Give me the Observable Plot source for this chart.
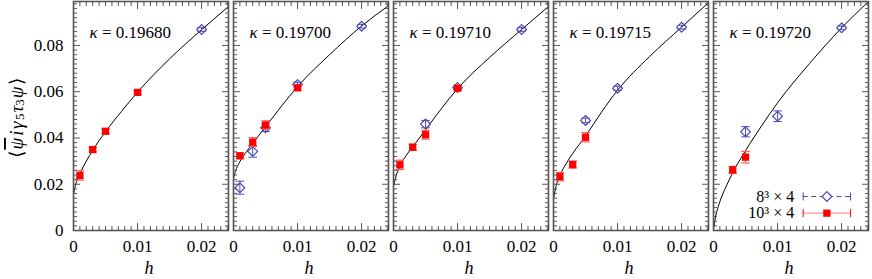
<!DOCTYPE html>
<html><head><meta charset="utf-8">
<script src="https://cdn.jsdelivr.net/npm/d3@7"></script>
<script src="https://cdn.jsdelivr.net/npm/@observablehq/plot@0.6"></script>
<style>
body{margin:0;background:#fff}
svg{display:block}
#chart svg, #chart svg text, #chart svg tspan { font-family: "Liberation Serif", "Times New Roman", serif !important; }
</style>
</head><body><div id="chart"></div>
<script>
// facet categories
const kappas = ["0.19680", "0.19700", "0.19710", "0.19715", "0.19720"];

// 8^3 x 4 lattice (open diamonds)
const l8Kappa = ["0.19680",
  "0.19700", "0.19700", "0.19700", "0.19700", "0.19700",
  "0.19710", "0.19710", "0.19710",
  "0.19715", "0.19715", "0.19715",
  "0.19720", "0.19720", "0.19720"];
const l8H   = [0.02, 0.001, 0.003, 0.005, 0.01, 0.02, 0.005, 0.01, 0.02, 0.005, 0.01, 0.02, 0.005, 0.01, 0.02];
const l8Val = [0.0869, 0.0185, 0.0342, 0.0444, 0.0631, 0.0883, 0.0460, 0.0618, 0.0869, 0.0476, 0.0615, 0.0879, 0.0427, 0.0494, 0.0876];
const l8Err = [0.0008, 0.0028, 0.0025, 0.0016, 0.0010, 0.0008, 0.0016, 0.0009, 0.0008, 0.0010, 0.0009, 0.0008, 0.0022, 0.0023, 0.0008];

// 10^3 x 4 lattice (filled squares)
const l10Kappa = ["0.19680", "0.19680", "0.19680", "0.19680",
  "0.19700", "0.19700", "0.19700", "0.19700",
  "0.19710", "0.19710", "0.19710", "0.19710",
  "0.19715", "0.19715", "0.19715",
  "0.19720", "0.19720"];
const l10H   = [0.001, 0.003, 0.005, 0.01, 0.001, 0.003, 0.005, 0.01, 0.001, 0.003, 0.005, 0.01, 0.001, 0.003, 0.005, 0.003, 0.005];
const l10Val = [0.0238, 0.0350, 0.0429, 0.0597, 0.0323, 0.0382, 0.0456, 0.0617, 0.0284, 0.0360, 0.0414, 0.0615, 0.0233, 0.0285, 0.0403, 0.0262, 0.0317];
const l10Err = [0.0020, 0.0010, 0.0010, 0.0008, 0.0012, 0.0019, 0.0018, 0.0009, 0.0020, 0.0013, 0.0019, 0.0009, 0.0018, 0.0015, 0.0020, 0.0015, 0.0025];

// fit curves at these h values
const fitH = [0, 0.0003, 0.001, 0.002, 0.003, 0.005, 0.0075, 0.01, 0.015, 0.02, 0.0242];
const fit19680 = [0.0155, 0.0195, 0.0245, 0.0300, 0.0347, 0.0427, 0.0515, 0.0598, 0.0742, 0.0868, 0.0968];
const fit19700 = [0.0225, 0.0255, 0.0298, 0.0340, 0.0377, 0.0448, 0.0538, 0.0622, 0.0760, 0.0884, 0.0972];
const fit19710 = [0.0190, 0.0225, 0.0280, 0.0325, 0.0362, 0.0435, 0.0528, 0.0613, 0.0748, 0.0869, 0.0968];
const fit19715 = [0.0135, 0.0180, 0.0238, 0.0290, 0.0333, 0.0408, 0.0512, 0.0606, 0.0752, 0.0879, 0.0985];
const fit19720 = [0.0005, 0.0055, 0.0125, 0.0192, 0.0250, 0.0345, 0.0452, 0.0552, 0.0722, 0.0876, 0.0990];

// ticks
const xMajor = [0, 0.01, 0.02];
const xLabels = ["0", "0.01", "0.02"];
const yMajor = [0, 0.02, 0.04, 0.06, 0.08];
const yLabels = ["0", "0.02", "0.04", "0.06", "0.08"];
const legendNames = ["8³ × 4", "10³ × 4"];

// tables
const l8 = l8H.map((h, i) => ({k: l8Kappa[i], h, v: l8Val[i], e: l8Err[i]}));
const l10 = l10H.map((h, i) => ({k: l10Kappa[i], h, v: l10Val[i], e: l10Err[i]}));
const fitSets = [fit19680, fit19700, fit19710, fit19715, fit19720];
const fits = kappas.flatMap((k, j) => fitH.map((h, i) => ({k, h, v: fitSets[j][i]})));

const xMinor = d3.range(1, 25).map(i => i / 1000).filter(v => v <= 0.0242 && !xMajor.some(m => Math.abs(m - v) < 1e-9));
const yMinor = d3.range(1, 50).map(i => i * 0.002).filter(v => v < 0.099 && !yMajor.some(m => Math.abs(m - v) < 1e-9));

const blue = "#4b4bb4";
const red = "#ff0000";
const redBar = "#ff5a5a";
const frameColor = "#555";
const lastK = kappas[kappas.length - 1];
const serif = "Liberation Serif";

const capSymbol = {draw(ctx, size) { const r = Math.sqrt(size / Math.PI); ctx.moveTo(-r, 0); ctx.lineTo(r, 0); }};
const vCapSymbol = {draw(ctx, size) { const r = Math.sqrt(size / Math.PI); ctx.moveTo(0, -r); ctx.lineTo(0, r); }};

const tickOpts = {stroke: frameColor, strokeWidth: 1, fill: "none", label: null};

// legend layout (in the last panel's coordinates)
const legX1 = 0.0140, legX2 = 0.0214, legXm = 0.0177, legXt = 0.0126;
const legY = [0.0147, 0.0075];

const svg = Plot.plot({
  width: 872, height: 279,
  marginLeft: 71, marginRight: 1, marginTop: 1, marginBottom: 49,
  style: {fontFamily: serif, fontSize: "17px", background: "white", color: "#000"},
  fx: {domain: kappas, paddingInner: 0.031, paddingOuter: 0, axis: null},
  x: {domain: [0, 0.0242]},
  y: {domain: [0, 0.099]},
  marks: [
    // fit curves
    Plot.line(fits, {fx: "k", x: "h", y: "v", stroke: "#000", strokeWidth: 1, curve: "monotone-x", clip: true}),
    // 8^3 x 4 error bars + diamonds
    Plot.ruleX(l8, {fx: "k", x: "h", y1: d => d.v - d.e, y2: d => d.v + d.e, stroke: blue, strokeWidth: 1}),
    Plot.dot(l8, {fx: "k", x: "h", y: d => d.v - d.e, symbol: capSymbol, r: 4.3, stroke: blue, strokeWidth: 1}),
    Plot.dot(l8, {fx: "k", x: "h", y: d => d.v + d.e, symbol: capSymbol, r: 4.3, stroke: blue, strokeWidth: 1}),
    Plot.dot(l8, {fx: "k", x: "h", y: "v", symbol: "diamond2", r: 4.4, stroke: blue, strokeWidth: 1.2, fill: "none"}),
    // 10^3 x 4 error bars + squares
    Plot.ruleX(l10, {fx: "k", x: "h", y1: d => d.v - d.e, y2: d => d.v + d.e, stroke: redBar, strokeWidth: 1.2}),
    Plot.dot(l10, {fx: "k", x: "h", y: d => d.v - d.e, symbol: capSymbol, r: 4.3, stroke: redBar, strokeWidth: 1.2}),
    Plot.dot(l10, {fx: "k", x: "h", y: d => d.v + d.e, symbol: capSymbol, r: 4.3, stroke: redBar, strokeWidth: 1.2}),
    Plot.dot(l10, {fx: "k", x: "h", y: "v", symbol: "square", r: 4.1, fill: red, stroke: "none"}),
    // legend (last panel)
    Plot.text(legendNames, {fx: () => lastK, x: legXt, y: (d, i) => legY[i], text: d => d, textAnchor: "end", fontSize: 16, fontFamily: serif}),
    Plot.ruleY([legY[0]], {fx: () => lastK, x1: legX1, x2: legX2, y: d => d, stroke: blue, strokeDasharray: "5,3.5", strokeWidth: 1}),
    Plot.ruleY([legY[1]], {fx: () => lastK, x1: legX1, x2: legX2, y: d => d, stroke: "#ff9090", strokeWidth: 1.4}),
    Plot.dot([legX1, legX2], {fx: () => lastK, x: d => d, y: legY[0], symbol: vCapSymbol, r: 4, stroke: blue, strokeWidth: 1}),
    Plot.dot([legX1, legX2], {fx: () => lastK, x: d => d, y: legY[1], symbol: vCapSymbol, r: 4, stroke: red, strokeWidth: 1}),
    Plot.dot([legXm], {fx: () => lastK, x: d => d, y: legY[0], symbol: "diamond2", r: 4.4, stroke: blue, strokeWidth: 1.2, fill: "white"}),
    Plot.dot([legXm], {fx: () => lastK, x: d => d, y: legY[1], symbol: "square", r: 4.1, fill: red, stroke: "none"}),
    // kappa labels
    Plot.text(kappas, {fx: d => d, frameAnchor: "top-left", dx: 16, dy: 24, text: d => "κ = " + d, textAnchor: "start", fontFamily: serif}),
    // x label
    Plot.text(["h"], {frameAnchor: "bottom", dy: 43, dx: -2, text: d => d, fontStyle: "italic", fontFamily: serif, fontSize: 18}),
    // tick labels
    Plot.axisX(xMajor, {anchor: "bottom", tickSize: 0, tickPadding: 9, tickFormat: (d, i) => xLabels[i], label: null, fontFamily: serif}),
    Plot.axisY(yMajor, {anchor: "left", tickSize: 0, tickPadding: 10, tickFormat: (d, i) => yLabels[i], label: null, fontFamily: serif}),
    // inward ticks on all sides
    Plot.axisX(xMajor, {anchor: "bottom", tickSize: -7, ...tickOpts}),
    Plot.axisX(xMinor, {anchor: "bottom", tickSize: -4, ...tickOpts}),
    Plot.axisX(xMajor, {anchor: "top", tickSize: -7, ...tickOpts}),
    Plot.axisX(xMinor, {anchor: "top", tickSize: -4, ...tickOpts}),
    Plot.axisY(yMajor, {anchor: "left", tickSize: -7, facetAnchor: null, ...tickOpts}),
    Plot.axisY(yMinor, {anchor: "left", tickSize: -4, facetAnchor: null, ...tickOpts}),
    Plot.axisY(yMajor, {anchor: "right", tickSize: -7, facetAnchor: null, ...tickOpts}),
    Plot.axisY(yMinor, {anchor: "right", tickSize: -4, facetAnchor: null, ...tickOpts}),
    Plot.frame({stroke: frameColor, strokeWidth: 1.6})
  ]
});

const s = d3.select(svg);
s.attr("font-family", serif);
// italic kappa in panel titles
s.selectAll("text").each(function () {
  const t = this.textContent;
  if (t.startsWith("κ = ")) {
    const el = d3.select(this);
    el.text("");
    el.append("tspan").attr("font-style", "italic").text("κ");
    el.append("tspan").text(t.slice(1));
  }
});
// y-axis label  <ψ̄ i γ5 τ3 ψ>
const yl = s.append("text")
  .attr("transform", "translate(16,118) rotate(-90)")
  .attr("text-anchor", "middle")
  .attr("dominant-baseline", "central")
  .attr("font-family", serif)
  .attr("font-size", 19)
  .attr("fill", "#000");
yl.append("tspan").text("⟨");
yl.append("tspan").attr("font-style", "italic").attr("dx", 1).style("text-decoration", "overline").text("ψ");
yl.append("tspan").attr("font-style", "italic").attr("dx", 2).attr("letter-spacing", 1.5).text("iγ");
yl.append("tspan").attr("font-size", 13).attr("dy", 3).text("5");
yl.append("tspan").attr("font-style", "italic").attr("dy", -3).attr("dx", 1).text("τ");
yl.append("tspan").attr("font-size", 13).attr("dy", 3).text("3");
yl.append("tspan").attr("font-style", "italic").attr("dy", -3).attr("dx", 1).text("ψ");
yl.append("tspan").attr("dx", 1).text("⟩");

document.getElementById("chart").appendChild(svg);
</script>
</body></html>
